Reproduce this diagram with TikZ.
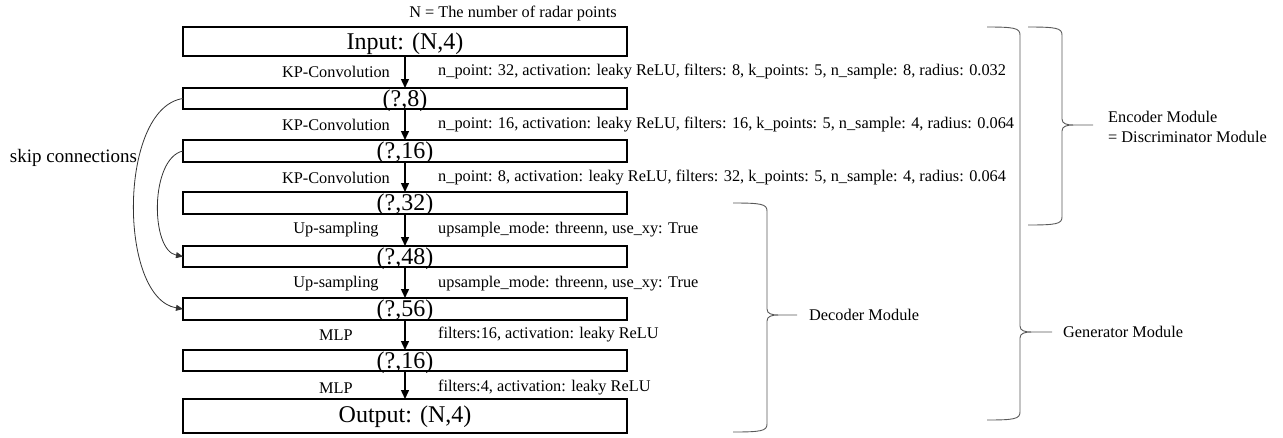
\documentclass[tikz,border=0pt]{standalone}
\usepackage{fontspec}
\setmainfont{Liberation Serif}
\usetikzlibrary{arrows.meta}
\newcommand\modbrace[6]{%
  \draw[brace] (#1,#4) .. controls ({#2-6},#4) and (#2,{#4+1}) .. (#2,{#4+8})
    -- (#2,{#5-6}) .. controls (#2,{#5-1}) and ({#2+5},#5) .. ({#2+12},#5) -- (#3,#5)
    -- ({#2+12},#5) .. controls ({#2+5},#5) and (#2,{#5+1}) .. (#2,{#5+6})
    -- (#2,{#6-8}) .. controls (#2,{#6-1}) and ({#2-6},#6) .. (#1,#6);}
\begin{document}
\begin{tikzpicture}[x=1pt,y=-1pt,
  layer/.style={draw,line width=1.4pt,minimum width=444pt,inner sep=0pt,outer sep=0pt},
  big/.style={font=\fontsize{24}{28}\selectfont,inner sep=0pt},
  opname/.style={font=\fontsize{16.3}{20}\selectfont,inner sep=0pt},
  parm/.style={font=\fontsize{16.3}{20}\selectfont,inner sep=0pt,anchor=west},
  flow/.style={line width=1.4pt,-{Triangle[width=8pt,length=9pt]}},
  skip/.style={line width=0.8pt,black!80,-{Triangle[width=6pt,length=7pt]}},
  brace/.style={line width=0.9pt,black!65},
  modlbl/.style={font=\fontsize{16.3}{20}\selectfont,inner sep=0pt,anchor=west,align=left}]
\useasboundingbox (0,0) rectangle (1283,437);

% note
\node[opname] (note) at (513,13) {N = The number of radar points};

% layer boxes
\node[layer,minimum height=29pt] (b0) at (405,41.5) {};
\node[layer,minimum height=21pt] (b1) at (405,98.5) {};
\node[layer,minimum height=22pt] (b2) at (405,151) {};
\node[layer,minimum height=22pt] (b3) at (405,203) {};
\node[layer,minimum height=21pt] (b4) at (405,256.5) {};
\node[layer,minimum height=22pt] (b5) at (405,309) {};
\node[layer,minimum height=21pt] (b6) at (405,360.5) {};
\node[layer,minimum height=34pt] (b7) at (405,416) {};

% layer texts
\node[big] (t0) at (405,44) {Input: (N,4)};
\node[big] (t1) at (405,100.5) {(?,8)};
\node[big] (t2) at (405,153) {(?,16)};
\node[big] (t3) at (405,205) {(?,32)};
\node[big] (t4) at (405,258.5) {(?,48)};
\node[big] (t5) at (405,311) {(?,56)};
\node[big] (t6) at (405,362.5) {(?,16)};
\node[big] (t7) at (405,416.5) {Output: (N,4)};

% flow arrows
\draw[flow] (b0.south) -- (b1.north);
\draw[flow] (b1.south) -- (b2.north);
\draw[flow] (b2.south) -- (b3.north);
\draw[flow] (b3.south) -- (b4.north);
\draw[flow] (b4.south) -- (b5.north);
\draw[flow] (b5.south) -- (b6.north);
\draw[flow] (b6.south) -- (b7.north);

% operation names
\node[opname] (o1) at (336,72) {KP-Convolution};
\node[opname] (o2) at (336,125) {KP-Convolution};
\node[opname] (o3) at (336,178) {KP-Convolution};
\node[opname] (o4) at (336,230) {Up-sampling};
\node[opname] (o5) at (336,284) {Up-sampling};
\node[opname] (o6) at (336,335) {MLP};
\node[opname] (o7) at (336,388) {MLP};

% parameters
\node[parm] (p1) at (438,72) {n\_point: 32, activation: leaky ReLU, filters: 8, k\_points: 5, n\_sample: 8, radius: 0.032};
\node[parm] (p2) at (438,125) {n\_point: 16, activation: leaky ReLU, filters: 16, k\_points: 5, n\_sample: 4, radius: 0.064};
\node[parm] (p3) at (438,178) {n\_point: 8, activation: leaky ReLU, filters: 32, k\_points: 5, n\_sample: 4, radius: 0.064};
\node[parm] (p4) at (438,230) {upsample\_mode: threenn, use\_xy: True};
\node[parm] (p5) at (438,284) {upsample\_mode: threenn, use\_xy: True};
\node[parm] (p6) at (438,335) {filters:16, activation: leaky ReLU};
\node[parm] (p7) at (438,388) {filters:4, activation: leaky ReLU};

% skip connections
\node[font=\fontsize{19}{22}\selectfont,inner sep=0pt] (skl) at (73.5,158) {skip connections};
\draw[skip] (b1.west) .. controls (118,108) and (118,298) .. (b5.west);
\draw[skip] (b2.west) .. controls (150,158) and (150,250) .. (b4.west);

% braces
\modbrace{733}{767}{797}{203}{315}{432}
\modbrace{987}{1020}{1052}{27}{332}{420}
\modbrace{1028}{1062}{1093}{27}{125}{225}

\node[modlbl] (dec) at (809,315) {Decoder Module};
\node[modlbl] (gen) at (1063,332) {Generator Module};
\node[modlbl] (enc) at (1108,127) {Encoder Module\\= Discriminator Module};
\end{tikzpicture}
\end{document}
